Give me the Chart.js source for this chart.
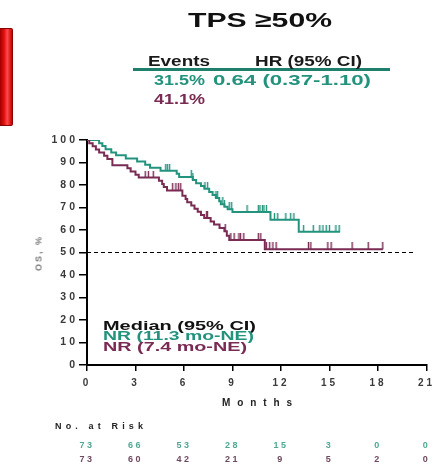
<!DOCTYPE html>
<html><head><meta charset="utf-8">
<script src="https://cdn.jsdelivr.net/npm/chart.js@4"></script>
<style>
html,body{margin:0;padding:0;background:#fff;width:438px;height:468px;overflow:hidden;position:relative;font-family:"Liberation Sans",Arial,sans-serif;}
#wrap{position:absolute;left:0;top:0;width:438px;height:468px;}
.t{position:absolute;white-space:nowrap;font-weight:bold;line-height:1;}
#redbox{position:absolute;left:0;top:28px;width:12px;height:96px;background:linear-gradient(to right,#a00000,#e01010 35%,#ff4a4a 60%,#c80000);border:1px solid #8a0000;border-left:none;border-radius:0 2px 2px 0;}
#uline{position:absolute;left:133px;top:68px;width:257px;height:2.5px;background:#1e7f6c;}
</style></head><body>
<div id="redbox"></div>
<div id="uline"></div>
<div id="wrap"><canvas id="c" width="438" height="468"></canvas></div>
<script>
const TEAL = '#23937e';
const MAROON = '#7a2b54';

// Kaplan-Meier steps: times (months) and survival (%) after each step
const greenTimes = [0, 0.75, 0.95, 1.15, 1.5, 1.8, 2.4, 3.1, 3.6, 3.9, 4.55, 5.55, 5.7, 6.55, 6.75, 7.05, 7.26, 7.56, 7.77, 7.98, 8.18, 8.28, 8.5, 8.7, 9.0, 11.35, 13.1, 15.65];
const greenSurv  = [100, 98.6, 97.3, 95.9, 94.5, 93.2, 91.8, 90.4, 89.0, 87.7, 86.3, 85.0, 83.6, 82.2, 80.8, 79.6, 78.3, 76.9, 75.6, 74.2, 72.8, 71.5, 70.3, 69.2, 68.0, 64.6, 59.2, 59.2];
const greenCensor = [4.87, 4.97, 5.11, 6.45, 6.55, 7.3, 7.46, 7.98, 8.08, 8.4, 8.5, 8.8, 8.95, 9.9, 10.6, 10.7, 10.85, 10.95, 11.1, 11.6, 11.8, 12.3, 12.6, 12.8, 13.4, 14.0, 14.4, 14.6, 14.8, 15.0, 15.4, 15.6];

const maroonTimes = [0, 0.14, 0.35, 0.55, 0.75, 1.06, 1.26, 1.57, 2.5, 2.7, 3.0, 3.2, 4.45, 4.65, 4.75, 4.95, 5.9, 6.1, 6.2, 6.45, 6.65, 6.85, 7.05, 7.25, 7.65, 7.86, 8.2, 8.5, 8.65, 8.8, 11.0, 18.3];
const maroonSurv  = [100, 98.6, 97.2, 95.8, 94.4, 93.0, 91.6, 88.8, 87.4, 86.0, 84.6, 83.3, 81.9, 80.5, 79.1, 77.6, 75.2, 73.8, 72.3, 70.9, 69.5, 68.1, 66.7, 65.3, 63.8, 62.4, 60.9, 59.4, 57.5, 55.6, 51.4, 51.4];
const maroonCensor = [3.6, 3.8, 4.1, 5.3, 5.5, 5.65, 5.8, 7.4, 7.45, 8.55, 8.9, 9.1, 9.4, 9.5, 9.7, 10.6, 10.75, 11.1, 11.3, 11.5, 11.7, 13.7, 13.85, 14.9, 15.1, 16.4, 17.4, 18.3];

const refLine = [{x:0, y:50}, {x:20.2, y:50}];

const xTicks = [0, 3, 6, 9, 12, 15, 18, 21];
const riskTimes = [0, 3, 6, 9, 12, 15, 18, 21];
const riskGreen = [73, 66, 53, 28, 15, 3, 0, 0];
const riskMaroon = [73, 60, 42, 21, 9, 5, 2, 0];

function survAt(times, surv, t){ let s = surv[0]; for (let i=0;i<times.length;i++){ if (times[i] <= t) s = surv[i]; } return s; }
function stepData(times, surv){ return times.map((t,i)=>({x:t, y:surv[i]})); }
function censorData(c, times, surv){ return c.map(t=>({x:t, y:survAt(times, surv, t)})); }
function tickImg(color){ const c=document.createElement('canvas'); c.width=3; c.height=14; const g=c.getContext('2d'); g.fillStyle=color; g.fillRect(0.8,0,1.4,7); return c; }

const FONT = '"Liberation Sans", Arial, sans-serif';

const spacingPlugin = {
  id:'spacing',
  beforeDraw(chart){ chart.ctx.letterSpacing = '3px'; },
  afterDraw(chart){
    const ctx = chart.ctx, xs = chart.scales.x;
    ctx.save();
    ctx.letterSpacing = '2.5px';
    ctx.font = 'bold 9px ' + FONT;
    ctx.textAlign = 'center';
    ctx.textBaseline = 'alphabetic';
    riskTimes.forEach((t,i)=>{
      const px = xs.getPixelForValue(t);
      ctx.fillStyle = '#4fa892';
      ctx.fillText(String(riskGreen[i]), px, 448);
      ctx.fillStyle = '#6e4a5e';
      ctx.fillText(String(riskMaroon[i]), px, 461.5);
    });
    ctx.restore();
    ctx.letterSpacing = '0px';
  }
};

new Chart(document.getElementById('c'), {
  type: 'line',
  data: {
    datasets: [
      {data: refLine, borderColor:'#000', borderWidth:1.2, borderDash:[4,3], pointRadius:0, order:3},
      {data: stepData(greenTimes, greenSurv), stepped:'before', borderColor:TEAL, borderWidth:2, pointRadius:0, order:2},
      {data: stepData(maroonTimes, maroonSurv), stepped:'before', borderColor:MAROON, borderWidth:2, pointRadius:0, order:1},
      {data: censorData(greenCensor, greenTimes, greenSurv), showLine:false, pointStyle:tickImg(TEAL), pointRadius:7, order:2},
      {data: censorData(maroonCensor, maroonTimes, maroonSurv), showLine:false, pointStyle:tickImg(MAROON), pointRadius:7, order:1}
    ]
  },
  options: {
    responsive:false, animation:false, devicePixelRatio:1,
    layout:{padding:{left:37, right:10, top:140, bottom:63}},
    plugins:{legend:{display:false}, tooltip:{enabled:false}},
    scales:{
      x:{type:'linear', min:0, max:21,
        afterBuildTicks: s => { s.ticks = xTicks.map(v=>({value:v})); },
        afterFit: s => { s.height = 40; },
        ticks:{color:'#3a3a3a', font:{family:FONT, weight:'bold', size:10}, padding:6, maxRotation:0},
        grid:{drawOnChartArea:false, drawTicks:true, tickLength:6, color:'#000', lineWidth:1.5},
        border:{display:true, color:'#000', width:2}},
      y:{type:'linear', min:0, max:100,
        afterFit: s => { s.width = 50; },
        ticks:{stepSize:10, color:'#3a3a3a', font:{family:FONT, weight:'bold', size:10.5}, padding:1},
        grid:{drawOnChartArea:false, drawTicks:true, tickLength:8, color:'#000', lineWidth:1.5},
        border:{display:true, color:'#000', width:2}}
    }
  },
  plugins:[spacingPlugin]
});

// text elements
const texts = [
  {text:'TPS ≥50%', cx:260, base:27, size:21, w:144, color:'#111'},
  {text:'Events', cx:179, base:66, size:15.5, w:62, color:'#1a1a1a'},
  {text:'HR (95% CI)', cx:308, base:66, size:15.5, w:107, color:'#1a1a1a'},
  {text:'31.5%', cx:179, base:84.5, size:15, w:51, color:TEAL},
  {text:'0.64 (0.37-1.10)', cx:292, base:84.5, size:15, w:158, color:TEAL},
  {text:'41.1%', cx:179, base:104, size:15, w:51, color:MAROON},
  {text:'Median (95% CI)', left:103, base:330, size:12, w:153, color:'#111'},
  {text:'NR (11.3 mo-NE)', left:103, base:340.5, size:12, w:151, color:TEAL},
  {text:'NR (7.4 mo-NE)', left:103, base:351, size:12, w:144, color:MAROON},
  {text:'Months', cx:257, base:406, size:10, w:70, color:'#222', mode:'ls'},
  {text:'No. at Risk', left:55, base:430, size:9, w:88, color:'#222', mode:'ls'}
];
function place(o){
  const el = document.createElement('div');
  el.className = 't';
  el.textContent = o.text;
  el.style.fontSize = o.size + 'px';
  el.style.color = o.color;
  document.body.appendChild(el);
  const nat = el.getBoundingClientRect().width;
  el.style.top = (o.base - 0.8465*o.size) + 'px';
  if (o.mode === 'ls'){
    const ls = (o.w - nat) / (o.text.length - 1);
    el.style.letterSpacing = ls + 'px';
    el.style.left = (o.cx !== undefined ? o.cx - o.w/2 : o.left) + 'px';
  } else {
    const k = o.w / nat;
    el.style.transformOrigin = '0 0';
    el.style.transform = 'scaleX(' + k + ')';
    el.style.left = (o.cx !== undefined ? o.cx - o.w/2 : o.left) + 'px';
  }
}
texts.forEach(place);

// rotated y-axis title
(function(){
  const el = document.createElement('div');
  el.className = 't';
  el.textContent = 'OS, %';
  el.style.fontSize = '9px';
  el.style.color = '#777';
  el.style.letterSpacing = '2px';
  document.body.appendChild(el);
  el.style.left = '39px'; el.style.top = '253px';
  el.style.transformOrigin = '50% 50%';
  el.style.transform = 'translate(-50%,-50%) rotate(-90deg)';
})();
</script>
</body></html>
